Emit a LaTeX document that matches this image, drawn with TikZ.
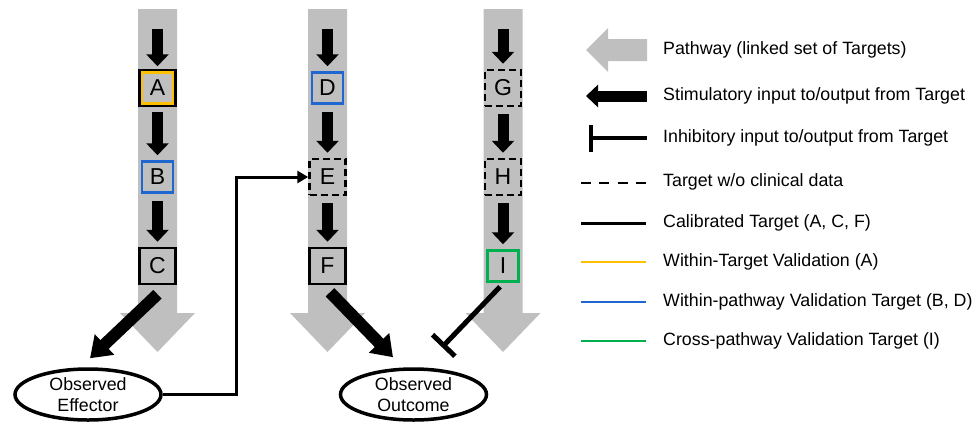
\documentclass[tikz,border=0pt]{standalone}
\usepackage{fontspec}
\setmainfont{Liberation Sans}
\usetikzlibrary{positioning,shapes.geometric,arrows.meta}
\definecolor{pathgray}{RGB}{191,191,191}
\definecolor{valorange}{RGB}{255,192,0}
\definecolor{valblue}{RGB}{32,102,208}
\definecolor{valgreen}{RGB}{0,176,80}

\begin{document}
\begin{tikzpicture}[x=1pt, y=-1pt, node distance=89pt,
    target/.style={rectangle,draw,fill=pathgray,line width=2.5pt,minimum size=36pt,inner sep=0pt,font=\fontsize{23}{26}\selectfont},
    valbox/.style={target,minimum size=31pt},
    nodata/.style={target,dash pattern=on 7pt off 4pt},
    stim/.style={line width=11pt,-{Triangle[width=22pt,length=12pt]},shorten <=7pt,shorten >=5pt},
    bigstim/.style={line width=12pt,-{Triangle[width=27pt,length=20pt]}},
    inhib/.style={line width=5pt,-{Bar[width=31pt]}},
    link/.style={line width=3pt,-{Triangle[width=12pt,length=11pt]}},
    observed/.style={ellipse,draw,line width=3.5pt,minimum width=146pt,minimum height=51pt,inner sep=0pt,align=center,font=\fontsize{17.8}{21}\selectfont},
    legtext/.style={anchor=west,inner sep=0pt,font=\fontsize{17.8}{21}\selectfont}]

\useasboundingbox (0,0) rectangle (973,423);

% pathways
\foreach \x in {157.5,327.5,503}
  \fill[pathgray] (\x-19.5,9) -- (\x+19.5,9) -- (\x+19.5,313) -- (\x+37.5,313)
    -- (\x,352) -- (\x-37.5,313) -- (\x-19.5,313) -- cycle;

% targets
\node[valbox,draw=valorange] (A) at (157.5,88) {A};
\draw[line width=2.5pt] ([xshift=-1.25pt,yshift=1.25pt]A.north west) rectangle ([xshift=1.25pt,yshift=-1.25pt]A.south east);
\node[valbox,draw=valblue] (B) [below of=A] {B};
\node[target] (C) [below of=B] {C};

\node[valbox,draw=valblue] (D) at (327.5,88) {D};
\node[nodata] (E) [below of=D] {E};
\node[target] (F) [below of=E] {F};

\node[nodata] (G) at (503,88) {G};
\node[nodata] (H) [below of=G] {H};
\node[valbox,draw=valgreen] (I) [below of=H] {I};

\coordinate (topA) at (157.5,22);
\coordinate (topD) at (327.5,22);
\coordinate (topG) at (503,22);

\node[observed] (Eff) at (88,394.5) {Observed\\Effector};
\node[observed] (Out) at (413.5,394.5) {Observed\\Outcome};

\path[stim]
    (topA) edge (A)
    (A) edge (B)
    (B) edge (C)
    (topD) edge (D)
    (D) edge (E)
    (E) edge (F)
    (topG) edge (G)
    (G) edge (H)
    (H) edge (I);

\draw[bigstim] ([yshift=-9pt]C.south) -- ([xshift=2pt,yshift=9pt]Eff.north);
\draw[bigstim] ([xshift=2.5pt,yshift=-7pt]F.south) -- ([xshift=-20.5pt,yshift=10pt]Out.north);
\draw[inhib] ([xshift=-3pt,yshift=-4pt]I.south) -- ([xshift=28.5pt,yshift=20pt]Out.north);
\draw[link] (Eff.east) -- ++(74,0) |- (E.west);

% legend
\node[legtext] (Lpath) at (663,50) {Pathway (linked set of Targets)};
\node[legtext] (Lstim) at (663,96) {Stimulatory input to/output from Target};
\node[legtext] (Linhib) at (663,138) {Inhibitory input to/output from Target};
\node[legtext] (Lnodata) at (663,182) {Target w/o clinical data};
\node[legtext] (Lcal) at (663,223) {Calibrated Target (A, C, F)};
\node[legtext] (Lwithin) at (663,262) {Within-Target Validation (A)};
\node[legtext] (Lpathval) at (663,302) {Within-pathway Validation Target (B, D)};
\node[legtext] (Lcross) at (663,341) {Cross-pathway Validation Target (I)};

\fill[pathgray] (647,39) -- (608,39) -- (608,28) -- (586,50) -- (608,72) -- (608,61) -- (647,61) -- cycle;
\draw[line width=11pt,-{Triangle[width=22pt,length=12pt]}] (647,96) -- (586,96);
\draw[line width=4pt,-{Bar[width=27pt]}] (647,138) -- (589,138);
\draw[line width=2.5pt,dash pattern=on 10pt off 8.3pt] (581,183) -- (646,183);
\draw[line width=3pt] (581,223) -- (646,223);
\draw[line width=2.5pt,valorange] (581,262) -- (646,262);
\draw[line width=2.5pt,valblue] (581,302) -- (646,302);
\draw[line width=2.5pt,valgreen] (581,341) -- (646,341);
\end{tikzpicture}
\end{document}
